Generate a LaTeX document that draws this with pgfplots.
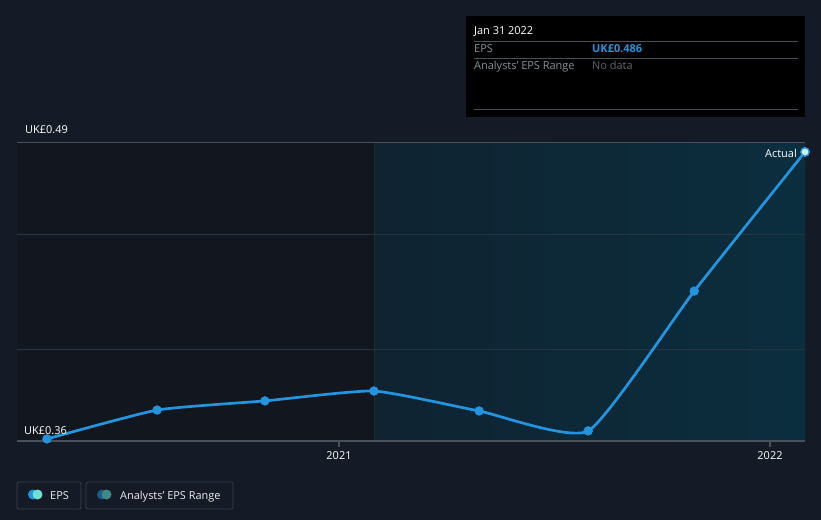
\documentclass[border=0pt]{standalone}
\usepackage{pgfplots}
\pgfplotsset{compat=1.18}
\usepackage{fontspec}
\setmainfont{Open Sans}
\definecolor{bg}{HTML}{151B26}
\definecolor{leftreg}{HTML}{12161E}
\definecolor{rightA}{HTML}{0F2331}
\definecolor{rightB}{HTML}{0B2E3E}
\definecolor{eps}{HTML}{2394DF}
\definecolor{epsb}{HTML}{6DE0D4}
\definecolor{rngA}{HTML}{1F5A8A}
\definecolor{rngB}{HTML}{3D8A86}
\definecolor{gridc}{HTML}{263543}
\definecolor{axc}{HTML}{4A4F58}
\definecolor{txtg}{HTML}{8A8F98}
\definecolor{legb}{HTML}{3A3F4A}
\begin{document}
\begin{tikzpicture}[font=\fontsize{11}{13}\selectfont]
\begin{scope}[x=1bp,y=1bp]
\fill[bg] (0,0) rectangle (821,-520);
\useasboundingbox (0,0) rectangle (821,-520);
\end{scope}
% x values are years minus 2020
\begin{axis}[at={(17bp,-441bp)}, anchor=south west, scale only axis,
  width=788bp, height=298bp, xmin=0.253, xmax=2.081, ymin=0.36, ymax=0.49,
  axis lines=none, clip=false]
\fill[leftreg] (axis cs:0.253,0.36) rectangle (axis cs:1.081,0.49);
\fill[left color=rightA, right color=rightB] (axis cs:1.081,0.36) rectangle (axis cs:2.081,0.49);
\draw[gridc, line width=0.8bp] (axis cs:0.253,0.45) -- (axis cs:2.081,0.45);
\draw[gridc, line width=0.8bp] (axis cs:0.253,0.40) -- (axis cs:2.081,0.40);
\draw[gridc!80!black, line width=0.8bp] (axis cs:1.081,0.36) -- (axis cs:1.081,0.49);
\draw[axc, line width=1bp] (axis cs:0.253,0.49) -- (axis cs:2.081,0.49);
\draw[axc, line width=1.2bp] (axis cs:0.253,0.36) -- (axis cs:2.081,0.36);
\addplot[smooth, tension=0.3, line width=2.7bp, color=eps, mark=*, mark size=4.4bp,
  mark options={fill=eps, draw=eps, line width=0.5bp}] coordinates {
(0.3225,0.3609) (0.578,0.3735) (0.828,0.3775) (1.081,0.3818)
(1.325,0.3731) (1.578,0.3644) (1.824,0.4254) (2.081,0.4861)};
\addplot[only marks, mark=*, mark size=4.2bp, mark options={fill=epsb!40!white, draw=eps, line width=1.3bp}]
  coordinates {(2.081,0.4861)};
\end{axis}
\begin{scope}[x=1bp,y=1bp]
\draw[axc, line width=1.2bp] (339,-442) -- (339,-447);
\draw[axc, line width=1.2bp] (770,-442) -- (770,-447);
% labels
\node[anchor=base west, text=white, inner sep=0] at (25,-134) {UK£0.49};
\node[anchor=base west, text=white, inner sep=0] at (24,-434) {UK£0.36};
\node[anchor=base east, text=white, inner sep=0] at (797,-158) {Actual};
\node[anchor=base, text=white, inner sep=0] at (339,-459) {2021};
\node[anchor=base, text=white, inner sep=0] at (770,-459) {2022};
% tooltip
\fill[black] (466,-16) rectangle (805,-117);
\node[anchor=base west, text=white, inner sep=0] at (474,-35) {Jan 31 2022};
\draw[axc, line width=0.7bp] (474,-41) -- (798,-41);
\draw[axc, line width=0.7bp] (474,-58) -- (798,-58);
\draw[axc, line width=0.7bp] (474,-109) -- (798,-109);
\node[anchor=base west, text=txtg, inner sep=0] at (474,-53) {EPS};
\node[anchor=base west, text=eps, inner sep=0] at (592,-53) {\bfseries UK£0.486};
\node[anchor=base west, text=txtg, inner sep=0] at (474,-70) {Analysts' EPS Range};
\node[anchor=base west, text=txtg!70!black, inner sep=0] at (592,-70) {No data};
% legend
\draw[legb, line width=0.8bp, rounded corners=1.5bp] (17,-482) rectangle (81,-509);
\fill[eps] (33,-494.5) circle (5);
\fill[epsb] (37.5,-494.5) circle (5);
\node[anchor=base west, text=white!85!gray, inner sep=0] at (50,-499) {EPS};
\draw[legb, line width=0.8bp, rounded corners=1.5bp] (86,-482) rectangle (233,-509);
\fill[rngA] (102,-494.5) circle (5);
\fill[rngB] (106.5,-494.5) circle (5);
\node[anchor=base west, text=white!85!gray, inner sep=0] at (120,-499) {Analysts' EPS Range};
\end{scope}
\end{tikzpicture}
\end{document}
